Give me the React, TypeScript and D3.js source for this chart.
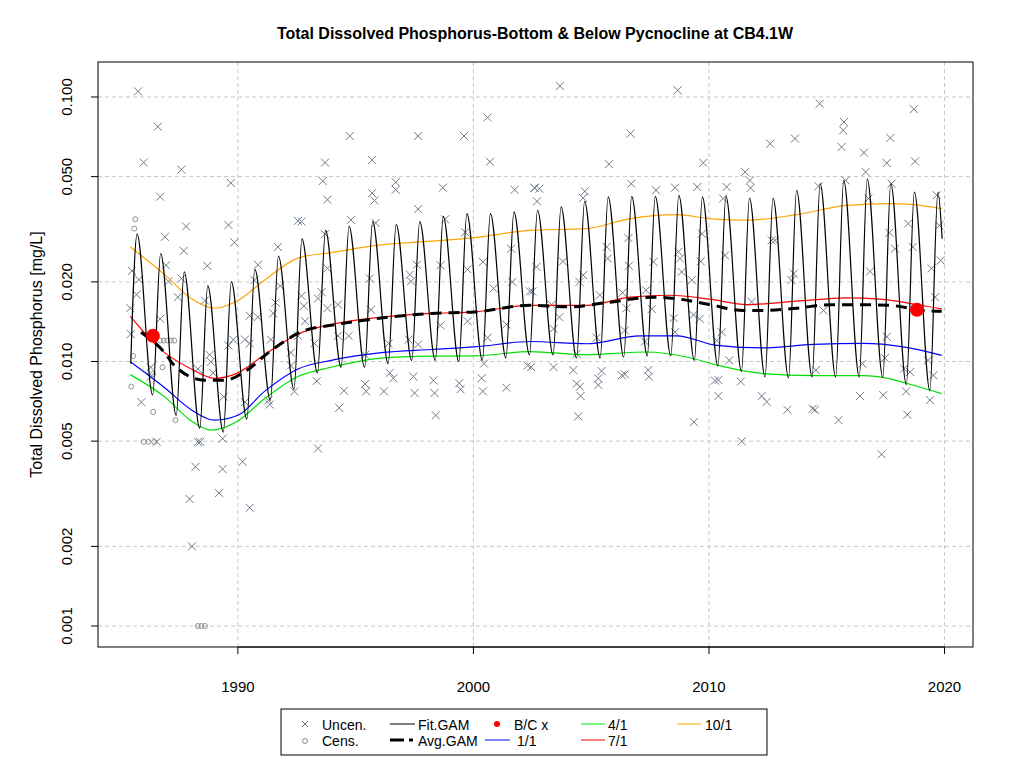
import React from 'react';
import * as d3 from 'd3';

const title = 'Total Dissolved Phosphorus-Bottom & Below Pycnocline at CB4.1W';
const yLabel = 'Total Dissolved Phosphorus [mg/L]';
const xTicks = [1990, 2000, 2010, 2020];
const yTicks = [0.001, 0.002, 0.005, 0.01, 0.02, 0.05, 0.1];
const yTickLabels = ['0.001', '0.002', '0.005', '0.010', '0.020', '0.050', '0.100'];

// Fit.GAM: seasonal peaks (~Sep) and troughs (~Mar)
const fitStart: [number, number] = [1985.45, 0.0098];
const fitEnd: [number, number] = [2019.9, 0.0291];
const fitPeaks = [0.0303, 0.0256, 0.0218, 0.0193, 0.02, 0.0223, 0.025, 0.0291, 0.0313, 0.0324, 0.0338, 0.0329, 0.0338,
  0.0353, 0.0362, 0.0362, 0.0368, 0.0373, 0.0384, 0.0403, 0.0419, 0.0421, 0.0421, 0.0425, 0.0419, 0.0421, 0.0415,
  0.0415, 0.0444, 0.047, 0.0484, 0.0489, 0.047, 0.0437, 0.0437];
const fitTroughs = [0.00747, 0.00626, 0.00559, 0.00541, 0.00606, 0.00713, 0.00785, 0.00906, 0.00951, 0.00951, 0.00982,
  0.0101, 0.0101, 0.01, 0.0101, 0.0103, 0.0106, 0.0106, 0.0103, 0.0103, 0.0104, 0.0105, 0.0105, 0.0101, 0.00963,
  0.00918, 0.00875, 0.00867, 0.00875, 0.00875, 0.00875, 0.0087, 0.00817, 0.00776];

const line10: [number, number][] = [[1985.43, 0.0271], [1986.89, 0.0213], [1988.02, 0.0173], [1989.01, 0.0159], [1990.0, 0.017],
  [1991.13, 0.0203], [1992.55, 0.0246], [1993.96, 0.0258], [1996.09, 0.0276], [1998.21, 0.0285], [2000.05, 0.0294],
  [2002.4, 0.0313], [2004.81, 0.0318], [2006.65, 0.0347], [2008.63, 0.0359], [2010.04, 0.0347], [2011.61, 0.0342],
  [2013.72, 0.0359], [2015.85, 0.0389], [2017.69, 0.0395], [2018.68, 0.0392], [2019.88, 0.0378]];
const line7: [number, number][] = [[1985.43, 0.0148], [1986.89, 0.0108], [1988.02, 0.00937], [1989.01, 0.00864], [1990.0, 0.00906],
  [1991.13, 0.0106], [1992.55, 0.0127], [1993.96, 0.0138], [1996.09, 0.0147], [1998.21, 0.0152], [2000.05, 0.0154],
  [2002.4, 0.0163], [2004.81, 0.0163], [2006.65, 0.0175], [2008.34, 0.0178], [2010.04, 0.0172], [2011.61, 0.0164],
  [2013.72, 0.0169], [2015.85, 0.0174], [2017.26, 0.0172], [2018.68, 0.0165], [2019.88, 0.0158]];
const avgGam: [number, number][] = [[1985.89, 0.0129], [1986.89, 0.0108], [1987.31, 0.00965], [1988.59, 0.0085], [1989.44, 0.0085],
  [1990.28, 0.00914], [1991.41, 0.011], [1992.83, 0.0131], [1993.96, 0.0137], [1996.09, 0.0146], [1998.21, 0.0152],
  [2000.05, 0.0154], [2002.4, 0.0163], [2004.1, 0.0161], [2005.66, 0.0167], [2007.64, 0.0175], [2008.77, 0.0172],
  [2010.04, 0.0164], [2011.46, 0.0156], [2012.31, 0.0156], [2013.72, 0.0159], [2015.14, 0.0164], [2016.13, 0.0164],
  [2017.69, 0.0163], [2019.1, 0.0156], [2019.88, 0.0155]];
const line1: [number, number][] = [[1985.43, 0.00998], [1986.89, 0.00796], [1988.02, 0.00657], [1989.01, 0.006], [1990.0, 0.00626],
  [1991.13, 0.00771], [1992.55, 0.00937], [1993.96, 0.0101], [1996.09, 0.0108], [1998.21, 0.0111], [2000.05, 0.01135],
  [2002.4, 0.0119], [2004.81, 0.01167], [2007.07, 0.01249], [2008.63, 0.0125], [2010.33, 0.0115], [2012.31, 0.01125],
  [2014.43, 0.0116], [2016.55, 0.0117], [2018.25, 0.01135], [2019.88, 0.01055]];
const line4: [number, number][] = [[1985.43, 0.00892], [1986.89, 0.00735], [1988.02, 0.00596], [1988.87, 0.0055], [1990.0, 0.00596],
  [1991.13, 0.00723], [1992.55, 0.00877], [1993.96, 0.00951], [1996.09, 0.0103], [1998.21, 0.01047], [2000.05, 0.0105],
  [2002.4, 0.0109], [2004.81, 0.0106], [2007.35, 0.01086], [2009.05, 0.0104], [2010.47, 0.00963], [2012.31, 0.009],
  [2014.43, 0.00884], [2016.55, 0.00884], [2017.69, 0.0086], [2018.68, 0.00813], [2019.88, 0.00756]];
const bcPoints: [number, number][] = [[1986.39, 0.0125], [2018.83, 0.0157]];

const uncen: [number, number][] = [
  [1985.76, 0.105], [1986.6, 0.0772], [1986.0, 0.0565], [1987.6, 0.0531], [1986.7, 0.042], [1989.7, 0.0473], [1987.8, 0.0324],
  [1989.6, 0.0328], [1986.9, 0.0296], [1989.85, 0.0282], [1987.7, 0.0262], [1988.7, 0.023], [1985.5, 0.022], [1986.95, 0.0231],
  [1985.8, 0.0204], [1987.6, 0.0206], [1987.05, 0.0201], [1985.7, 0.0179], [1987.45, 0.0175], [1988.6, 0.017], [1985.43, 0.0159],
  [1986.7, 0.0145], [1990.85, 0.0232], [1990.7, 0.0203], [1990.5, 0.0149], [1990.85, 0.0147], [1991.7, 0.0271], [1991.8, 0.0193],
  [1991.6, 0.0167], [1991.5, 0.0152], [1992.55, 0.034], [1992.7, 0.0338], [1992.7, 0.0177], [1992.8, 0.0162], [1992.85, 0.0142],
  [1993.7, 0.0565], [1993.6, 0.0481], [1993.8, 0.0409], [1993.7, 0.0303], [1993.8, 0.0225], [1993.55, 0.0183], [1993.4, 0.0173],
  [1994.75, 0.0712], [1995.7, 0.0578], [1995.7, 0.0433], [1995.8, 0.0406], [1994.8, 0.0343], [1995.85, 0.0334], [1995.6, 0.0206],
  [1994.25, 0.0164], [1993.8, 0.0159], [1995.65, 0.0157], [1996.7, 0.0476], [1996.7, 0.0446], [1997.65, 0.0712], [1997.65, 0.0377],
  [1998.7, 0.0454], [1999.6, 0.0712], [2000.6, 0.0837], [2000.7, 0.0569], [2001.75, 0.0446], [2002.6, 0.0454], [1998.8, 0.0345],
  [1999.65, 0.0308], [1997.3, 0.0213], [1997.35, 0.0201], [1997.6, 0.0232], [1998.6, 0.0231], [1999.75, 0.0223], [2000.4, 0.0238],
  [2001.65, 0.02], [2001.6, 0.0267], [2000.85, 0.0189], [2002.5, 0.0184], [1998.6, 0.0137], [1999.75, 0.0142], [2001.4, 0.0138],
  [1996.4, 0.0117], [1997.25, 0.0121], [1997.65, 0.0116], [2000.6, 0.0123], [1994.25, 0.0125], [1994.7, 0.0125], [1995.4, 0.0106],
  [1993.25, 0.0117], [1992.25, 0.00965], [1992.4, 0.00771], [1993.35, 0.00843], [1994.5, 0.00775], [1995.4, 0.00822],
  [1995.45, 0.00771], [1996.2, 0.00771], [1996.45, 0.00906], [1996.6, 0.00864], [1997.45, 0.00877], [1997.5, 0.0076],
  [1998.3, 0.00848], [1998.35, 0.0076], [1999.4, 0.00828], [1999.45, 0.00785], [2000.35, 0.00864], [2000.4, 0.00771],
  [2001.4, 0.00796], [2002.3, 0.00965], [2000.45, 0.00982], [1994.3, 0.00668], [1998.4, 0.00626], [1993.4, 0.00469],
  [1991.35, 0.00688], [1991.3, 0.00713], [1990.3, 0.00702], [1989.4, 0.00736], [1989.35, 0.00511], [1988.3, 0.00497],
  [1988.4, 0.00497], [1985.9, 0.00702], [1990.2, 0.00418], [1988.2, 0.004], [1989.35, 0.00392], [1989.2, 0.00318],
  [1987.95, 0.00302], [1990.5, 0.0028], [1988.05, 0.002], [1986.55, 0.00497], [1986.3, 0.00951], [1986.3, 0.00877],
  [1985.45, 0.0127], [1988.8, 0.0106], [1988.85, 0.00998], [1989.8, 0.0121], [1989.6, 0.0115], [1990.3, 0.0121],
  [1988.3, 0.00937], [1988.95, 0.00906], [1990.5, 0.0117], [1991.4, 0.0121], [1992.25, 0.0108], [1992.55, 0.0125],
  [2003.67, 0.11], [2008.67, 0.106], [2006.67, 0.0727], [2005.75, 0.0557], [2009.76, 0.0564], [2002.6, 0.0453], [2002.8, 0.045],
  [2002.7, 0.0403], [2004.73, 0.044], [2004.66, 0.0415], [2006.7, 0.047], [2007.75, 0.0444], [2008.56, 0.0454], [2009.5, 0.0457],
  [2010.75, 0.0457], [2010.6, 0.0413], [2011.74, 0.0484], [2011.77, 0.0453], [2011.53, 0.052], [2012.6, 0.0666], [2013.65, 0.0696],
  [2014.7, 0.0943], [2015.73, 0.0804], [2015.7, 0.0748], [2015.63, 0.0647], [2016.58, 0.0616], [2017.7, 0.07], [2017.55, 0.0563],
  [2018.7, 0.0899], [2018.75, 0.0571], [2016.65, 0.052], [2015.8, 0.0484], [2014.65, 0.046], [2017.75, 0.047], [2019.67, 0.0425],
  [2018.46, 0.0332], [2017.66, 0.0307], [2016.77, 0.0413], [2019.78, 0.0327], [2002.68, 0.0228], [2003.8, 0.0239], [2004.5, 0.02],
  [2004.66, 0.0212], [2005.66, 0.0271], [2005.7, 0.0245], [2006.58, 0.0293], [2006.6, 0.023], [2007.64, 0.0238], [2008.7, 0.026],
  [2008.77, 0.0245], [2009.7, 0.0304], [2009.65, 0.0239], [2008.84, 0.0218], [2009.27, 0.0203], [2010.68, 0.0252], [2012.66, 0.0287],
  [2012.8, 0.0287], [2013.6, 0.0215], [2013.5, 0.0203], [2016.84, 0.0219], [2017.9, 0.0267], [2018.65, 0.0271], [2019.45, 0.0225],
  [2019.84, 0.0241], [2019.6, 0.0175], [2002.4, 0.0184], [2003.32, 0.0164], [2003.65, 0.0147], [2003.4, 0.0133], [2005.37, 0.0178],
  [2006.33, 0.0182], [2006.5, 0.0159], [2007.33, 0.0186], [2007.57, 0.0158], [2008.5, 0.0146], [2009.34, 0.015], [2009.6, 0.0145],
  [2010.54, 0.0129], [2011.81, 0.0168], [2014.86, 0.0156], [2017.55, 0.0124], [2005.23, 0.0123], [2006.43, 0.0131],
  [2007.28, 0.0119], [2008.56, 0.0129], [2010.33, 0.012], [2004.38, 0.0107], [2002.45, 0.00953], [2003.4, 0.00953],
  [2004.24, 0.00928], [2005.44, 0.0092], [2005.3, 0.00863], [2004.38, 0.00824], [2004.52, 0.00803], [2004.55, 0.0074],
  [2005.3, 0.00815], [2006.3, 0.00887], [2006.43, 0.00895], [2007.42, 0.00928], [2007.45, 0.00876], [2004.45, 0.0062],
  [2009.36, 0.0059], [2010.25, 0.00847], [2010.4, 0.00851], [2010.86, 0.0101], [2010.4, 0.0074], [2011.35, 0.0084],
  [2011.39, 0.00499], [2012.24, 0.0074], [2012.45, 0.00704], [2013.33, 0.00657], [2014.4, 0.00663], [2014.5, 0.00657],
  [2014.54, 0.00928], [2015.5, 0.006], [2016.41, 0.0074], [2016.52, 0.00981], [2017.4, 0.00746], [2018.37, 0.00771],
  [2018.28, 0.00939], [2018.54, 0.00912], [2018.42, 0.00629], [2017.33, 0.00446], [2019.38, 0.00715], [2019.53, 0.00887],
  [2019.3, 0.0101], [2017.47, 0.0103]];
const cens: [number, number][] = [[1985.64, 0.0345], [1985.6, 0.0318], [1985.47, 0.00804], [1985.55, 0.0105], [1986.4, 0.00897],
  [1986.4, 0.00645], [1986.8, 0.00951], [1987.35, 0.006], [1986.0, 0.00497], [1986.2, 0.00497], [1986.45, 0.00497],
  [1986.7, 0.012], [1986.85, 0.012], [1987.0, 0.012], [1987.15, 0.012], [1987.3, 0.012], [1988.3, 0.001], [1988.45, 0.001], [1988.6, 0.001]];

const W = 1024, H = 768;
const L = 98, R = 973, T = 62, B = 647;
const font = '"Liberation Sans", Arial, sans-serif';

export default function App() {
  const x = d3.scaleLinear().domain([1984.06, 2021.21]).range([L, R]);
  const y = d3.scaleLog().domain([0.000833, 0.1356]).range([B, T]);

  const fitPts: [number, number][] = [fitStart];
  fitPeaks.forEach((p, i) => {
    fitPts.push([1985 + i + 0.72, p]);
    if (i < fitTroughs.length) fitPts.push([1986 + i + 0.38, fitTroughs[i]]);
  });
  fitPts.push(fitEnd);

  const lineGen = d3.line<[number, number]>().x(d => x(d[0])).y(d => y(d[1]));
  const smooth = d3.line<[number, number]>().curve(d3.curveMonotoneX).x(d => x(d[0])).y(d => y(d[1]));
  const xs = 4;

  return (
    <svg width={W} height={H} style={{ display: 'block', margin: -8 }} fontFamily={font}>
      <rect width={W} height={H} fill="#fff" />
      <text x={535} y={39} textAnchor="middle" fontWeight="bold" fontSize={16}>{title}</text>
      {xTicks.map(t => (
        <line key={'gx' + t} x1={x(t)} x2={x(t)} y1={T} y2={B} stroke="#c8c8c8" strokeDasharray="4,3" />
      ))}
      {yTicks.map(t => (
        <line key={'gy' + t} x1={L} x2={R} y1={y(t)} y2={y(t)} stroke="#c8c8c8" strokeDasharray="4,3" />
      ))}
      <g stroke="#6e7b8b" strokeWidth={1}>
        {uncen.map((d, i) => {
          const cx = x(d[0]), cy = y(d[1]);
          return <path key={'u' + i} d={`M${cx - xs},${cy - xs}L${cx + xs},${cy + xs}M${cx - xs},${cy + xs}L${cx + xs},${cy - xs}`} />;
        })}
      </g>
      <g stroke="#909090" fill="none">
        {cens.map((d, i) => <circle key={'c' + i} cx={x(d[0])} cy={y(d[1])} r={2.5} />)}
      </g>
      <path d={smooth(line10) || ''} fill="none" stroke="orange" strokeWidth={1.2} />
      <path d={smooth(line7) || ''} fill="none" stroke="red" strokeWidth={1.2} />
      <path d={smooth(line1) || ''} fill="none" stroke="blue" strokeWidth={1.2} />
      <path d={smooth(line4) || ''} fill="none" stroke="#00e000" strokeWidth={1.2} />
      <path d={smooth(fitPts) || ''} fill="none" stroke="#000" strokeWidth={1.2} />
      <path d={smooth(avgGam) || ''} fill="none" stroke="#000" strokeWidth={3} strokeDasharray="11,7" />
      {bcPoints.map((d, i) => <circle key={'bc' + i} cx={x(d[0])} cy={y(d[1])} r={7} fill="red" />)}
      <rect x={L} y={T} width={R - L} height={B - T} fill="none" stroke="#000" />
      {xTicks.map(t => (
        <g key={'xt' + t}>
          <line x1={x(t)} x2={x(t)} y1={B} y2={B + 7} stroke="#000" />
          <text x={x(t)} y={B + 45} textAnchor="middle" fontSize={15}>{t}</text>
        </g>
      ))}
      <line x1={x(1990)} x2={x(2020)} y1={B} y2={B} stroke="#000" />
      {yTicks.map((t, i) => (
        <g key={'yt' + t}>
          <line x1={L - 7} x2={L} y1={y(t)} y2={y(t)} stroke="#000" />
          <text transform={`translate(${L - 26},${y(t)}) rotate(-90)`} textAnchor="middle" fontSize={15}>{yTickLabels[i]}</text>
        </g>
      ))}
      <text transform={`translate(42,${(T + B) / 2}) rotate(-90)`} textAnchor="middle" fontSize={16}>{yLabel}</text>
      <g fontSize={14}>
        <rect x={281} y={709} width={486} height={46} fill="#fff" stroke="#000" />
        <path d="M302,721L308,727M302,727L308,721" stroke="#6e7b8b" />
        <text x={322} y={730}>Uncen.</text>
        <circle cx={305} cy={741} r={2.5} fill="none" stroke="#909090" />
        <text x={322} y={746}>Cens.</text>
        <line x1={390} x2={415} y1={724} y2={724} stroke="#000" />
        <text x={418} y={730}>Fit.GAM</text>
        <path d="M390,740H404M409,740H413" stroke="#000" strokeWidth={3} />
        <text x={418} y={746}>Avg.GAM</text>
        <circle cx={497} cy={724} r={3} fill="red" />
        <text x={514} y={730}>B/C x</text>
        <line x1={485} x2={510} y1={740} y2={740} stroke="blue" />
        <text x={517} y={746}>1/1</text>
        <line x1={581} x2={605} y1={724} y2={724} stroke="#00e000" />
        <text x={608} y={730}>4/1</text>
        <line x1={581} x2={605} y1={740} y2={740} stroke="red" />
        <text x={608} y={746}>7/1</text>
        <line x1={677} x2={701} y1={724} y2={724} stroke="orange" />
        <text x={705} y={730}>10/1</text>
      </g>
    </svg>
  );
}
